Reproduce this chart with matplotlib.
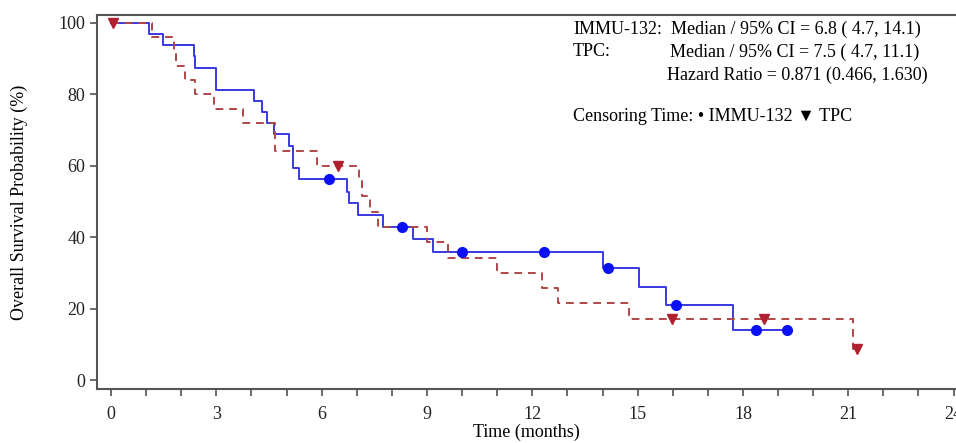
import numpy as np
import matplotlib
matplotlib.use("Agg")
import matplotlib.pyplot as plt

plt.rcParams['font.family'] = ['Liberation Serif', 'DejaVu Serif']

# IMMU-132 (step times in months, survival %)
immu_t = [0, 1.09, 1.47, 2.35, 2.40, 2.99, 4.08, 4.29, 4.43, 4.65, 5.08, 5.19, 5.36,
          6.71, 6.77, 7.03, 7.76, 8.60, 9.18, 14.01, 15.03, 15.80, 17.73]
immu_s = [100, 96.9, 93.75, 90.6, 87.5, 81.25, 78.1, 75.0, 71.9, 68.75, 65.6, 59.4, 56.25,
          52.7, 49.5, 46.2, 42.9, 39.4, 35.9, 31.4, 26.1, 20.9, 14.0]
immu_cens_t = [6.22, 8.28, 9.99, 12.32, 14.15, 16.09, 18.38, 19.25]
immu_cens_s = [56.25, 42.9, 35.9, 35.9, 31.4, 20.9, 14.0, 14.0]

# TPC
tpc_t = [0, 1.18, 1.78, 1.86, 2.11, 2.39, 2.92, 3.77, 4.67, 5.88, 7.07, 7.16, 7.38, 7.60,
         8.99, 9.59, 10.99, 12.27, 12.72, 14.76, 21.13]
tpc_s = [100, 96, 92, 88, 84, 80, 76, 72, 64, 60, 55.7, 51.4, 47.1, 42.9,
         38.6, 34.3, 30.0, 25.7, 21.5, 17.2, 8.6]
tpc_cens_t = [0.05, 6.46, 15.98, 18.6, 21.25]
tpc_cens_s = [100, 60, 17.2, 17.2, 8.6]

blue_line = '#3838e0'
blue_dot = '#0a10f5'
red_line = '#b04848'
red_mark = '#b0202e'

fig = plt.figure(figsize=(9.56, 4.43), dpi=100)
ax = fig.add_axes([97/956, 1 - 389/443, 1 - 97/956, (389 - 15)/443])

ax.step(immu_t + [immu_cens_t[-1]], immu_s + [immu_s[-1]], where='post',
        color=blue_line, lw=1.4)
ax.step(tpc_t + [tpc_cens_t[-1]], tpc_s + [tpc_s[-1]], where='post',
        color=red_line, lw=1.4, dashes=(4, 3))
ax.plot(immu_cens_t, immu_cens_s, 'o', color=blue_dot, ms=7, zorder=5)
ax.plot(tpc_cens_t, tpc_cens_s, 'v', color=red_mark, ms=7, zorder=5)

ax.set_xlim(-0.4, 24.07)
ax.set_ylim(-2.5, 102.2)
ax.set_xticks(np.arange(0, 25, 3))
ax.set_xticks(np.arange(0, 25, 1), minor=True)
ax.set_yticks(np.arange(0, 101, 20))
ax.tick_params(which='both', direction='out', length=5, width=1.1, color='#444444',
               labelsize=13, colors='#222222')
ax.tick_params(axis='x', which='both', pad=7)
for s in ax.spines.values():
    s.set_color('#555555')
    s.set_linewidth(1.5)
ax.spines['right'].set_visible(False)

ax.set_xlabel('Time (months)', fontsize=13, labelpad=1)
ax.set_ylabel('Overall Survival Probability (%)', fontsize=13, labelpad=22)

fs = 13
def px(x, y):
    return x / 956, 1 - y / 443

fig.text(*px(573, 33.5), 'IMMU-132:', fontsize=fs, va='baseline')
fig.text(*px(573, 56.5), 'TPC:', fontsize=fs, va='baseline')
fig.text(*px(671, 33.5), 'Median / 95% CI = 6.8 ( 4.7, 14.1)', fontsize=fs, va='baseline')
fig.text(*px(670, 56.5), 'Median / 95% CI = 7.5 ( 4.7, 11.1)', fontsize=fs, va='baseline')
fig.text(*px(667, 79.5), 'Hazard Ratio = 0.871 (0.466, 1.630)', fontsize=fs, va='baseline')
fig.text(*px(573, 121), 'Censoring Time: \u2022 IMMU-132 \u25BC TPC', fontsize=fs, va='baseline',
         family=['Liberation Serif', 'DejaVu Sans'])

fig.savefig('out.png', dpi=100)
